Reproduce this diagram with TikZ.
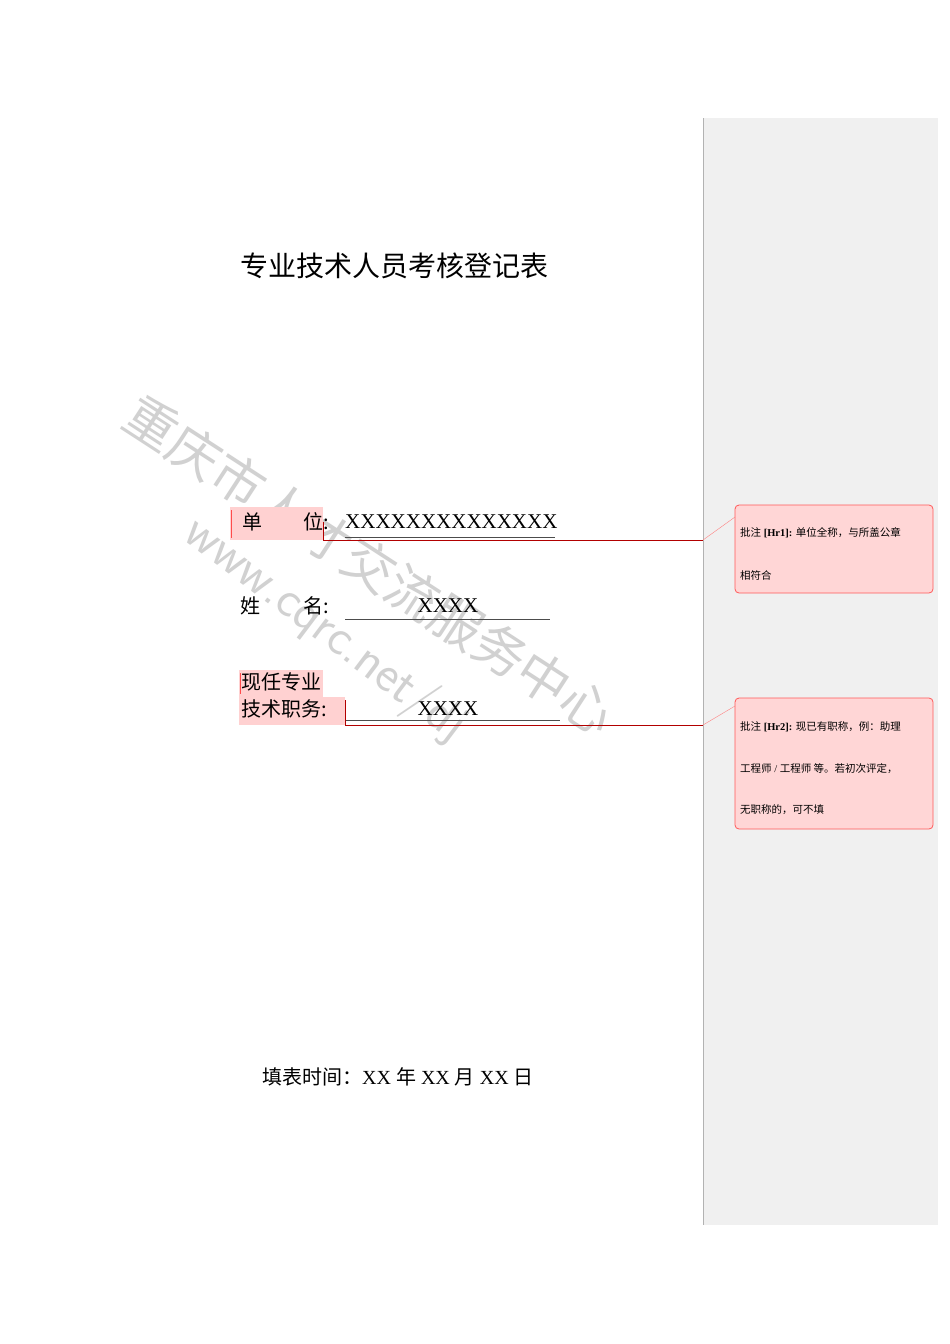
\documentclass[tikz,border=0pt]{standalone}
\usepackage{fontspec}
\setmainfont{Liberation Serif}
\newfontfamily\cjk{Noto Sans CJK SC}
\begin{document}
\begin{tikzpicture}[x=1pt,y=-1pt,
  fld/.style={inner sep=0pt,anchor=west,font=\fontsize{20}{20}\selectfont},
  hl/.style={fill=red!18,draw=none},
  cbox/.style={draw=red!65,fill=red!16,rounded corners=4pt,line width=0.8pt},
  ctext/.style={inner sep=0pt,anchor=west,font=\fontsize{10.5}{10.5}\selectfont},
  rl/.style={draw=red!70!black,line width=0.6pt},
  wm/.style={text=black!18,font=\cjk\fontsize{52}{52}\selectfont}]
\useasboundingbox (0,0) rectangle (950,1344);
\fill[white] (0,0) rectangle (950,1344);
% sidebar
\fill[black!6] (703,118) rectangle (938,1225);
\draw[black!30] (703,118) -- (703,1225);
% watermark
\node[wm,rotate=-33] (w1) at (370,565) {重庆市人才交流服务中心};
\node[wm,rotate=-37,font=\fontsize{52}{52}\selectfont\sffamily] (w2) at (325,630) {www.cqrc.net/dj};
% title
\node[font=\cjk\fontsize{28}{28}\selectfont] (title) at (394,266) {专业技术人员考核登记表};
% field 1
\fill[hl] (230,507) rectangle (323,540);
\draw[red!70,line width=1pt] (231,510) -- (231,538);
\node[fld] (f1a) at (242,522) {\cjk 单};
\node[fld] (f1b) at (303,522) {\cjk 位:};
\node[fld,font=\fontsize{21}{21}\selectfont] (f1v) at (345,522) {XXXXXXXXXXXXXX};
\draw[black!70] (345,537) -- (555,537);
\coordinate (r1a) at (323,540);
\coordinate (r1b) at (703,540);
\draw[rl] (323,522) -- (r1a) -- (r1b);
% field 2
\node[fld] (f2a) at (240,606) {\cjk 姓};
\node[fld] (f2b) at (303,606) {\cjk 名:};
\node[fld,anchor=center,font=\fontsize{21}{21}\selectfont] (f2v) at (448,606) {XXXX};
\draw[black!70] (345,619) -- (550,619);
% field 3
\fill[hl] (239,670) rectangle (323,697);
\fill[hl] (239,697) rectangle (345,725);
\draw[red!70,line width=1pt] (240,673) -- (240,694);
\node[fld] (f3a) at (241,682) {\cjk 现任专业};
\node[fld] (f3b) at (241,709) {\cjk 技术职务:};
\node[fld,anchor=center,font=\fontsize{21}{21}\selectfont] (f3v) at (448,709) {XXXX};
\draw[black!70] (345,720) -- (560,720);
\coordinate (r2a) at (345,725);
\coordinate (r2b) at (703,725);
\draw[rl] (345,700) -- (r2a) -- (r2b);
% comments
\draw[cbox] (735,505) rectangle (933,593);
\node[ctext] (c1a) at (740,533) {{\cjk 批注} \textbf{[Hr1]:} {\cjk 单位全称，与所盖公章}};
\node[ctext] (c1b) at (740,575) {\cjk 相符合};
\draw[red!50] (r1b) -- (735,517);
\draw[cbox] (735,698) rectangle (933,829);
\node[ctext] (c2a) at (740,727) {{\cjk 批注} \textbf{[Hr2]:} {\cjk 现已有职称，例：助理}};
\node[ctext] (c2b) at (740,769) {{\cjk 工程师} / {\cjk 工程师 等。若初次评定，}};
\node[ctext] (c2c) at (740,810) {\cjk 无职称的，可不填};
\draw[red!50] (r2b) -- (735,706);
% date
\node[font=\fontsize{20}{20}\selectfont] (date) at (398,1077) {{\cjk 填表时间：}XX {\cjk 年} XX {\cjk 月} XX {\cjk 日}};
\end{tikzpicture}
\end{document}
